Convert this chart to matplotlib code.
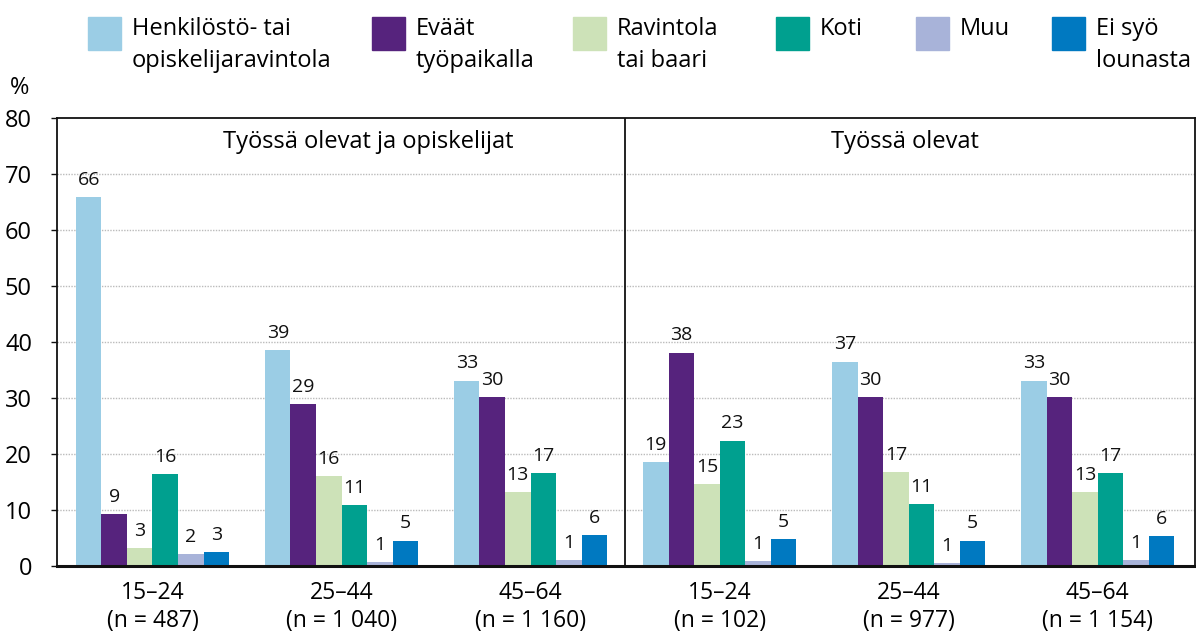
import matplotlib
matplotlib.use("Agg")
import matplotlib.pyplot as plt
import numpy as np
from matplotlib.patches import Rectangle

plt.rcParams['font.family'] = ['Open Sans', 'DejaVu Sans']

# ---- data ----
age_groups = ["15–24", "25–44", "45–64", "15–24", "25–44", "45–64"]
n_values = ["487", "1 040", "1 160", "102", "977", "1 154"]
series_names = ["Henkilöstö- tai\nopiskelijaravintola", "Eväät\ntyöpaikalla",
                "Ravintola\ntai baari", "Koti", "Muu", "Ei syö\nlounasta"]
henkilosto = [65.9, 38.5, 33.1, 18.5, 36.5, 33.1]
evaat = [9.3, 28.9, 30.1, 38.1, 30.1, 30.1]
ravintola = [3.2, 16.0, 13.2, 14.6, 16.7, 13.2]
koti = [16.4, 10.9, 16.6, 22.4, 11.0, 16.6]
muu = [2.1, 0.7, 1.1, 0.9, 0.5, 1.1]
ei_syo = [2.5, 4.5, 5.5, 4.8, 4.5, 5.3]
lab_henkilosto = [66, 39, 33, 19, 37, 33]
lab_evaat = [9, 29, 30, 38, 30, 30]
lab_ravintola = [3, 16, 13, 15, 17, 13]
lab_koti = [16, 11, 17, 23, 11, 17]
lab_muu = [2, 1, 1, 1, 1, 1]
lab_ei_syo = [3, 5, 6, 5, 5, 6]
panel_titles = ["Työssä olevat ja opiskelijat", "Työssä olevat"]
y_ticks = [0, 10, 20, 30, 40, 50, 60, 70, 80]

colors = ["#9BCDE5", "#56237D", "#CDE2B8", "#00A08F", "#A8B3D9", "#0079C1"]
values = [henkilosto, evaat, ravintola, koti, muu, ei_syo]
labels = [lab_henkilosto, lab_evaat, lab_ravintola, lab_koti, lab_muu, lab_ei_syo]

W, H = 1196, 633
fig = plt.figure(figsize=(W / 100, H / 100), dpi=100)
ax = fig.add_axes([57 / W, (H - 566) / H, (1195 - 57) / W, (566 - 118) / H])

x = np.arange(len(age_groups))
bw = 0.135
for i, (vals, labs, col) in enumerate(zip(values, labels, colors)):
    pos = x + (i - 2.5) * bw
    ax.bar(pos, vals, width=bw, color=col, zorder=3, linewidth=0)
    for px, v, l in zip(pos, vals, labs):
        ax.annotate(str(l), (px, v), xytext=(0, 6), textcoords="offset points",
                    ha="center", va="bottom", fontsize=14, color="#111111")

ax.set_xlim(-0.505, 5.515)
ax.set_ylim(0, 80)
ax.set_yticks(y_ticks)
ax.set_yticklabels([str(t) for t in y_ticks], fontsize=17)
ax.set_xticks(x)
ax.set_xticklabels([f"{a}\n(n = {n})" for a, n in zip(age_groups, n_values)],
                   fontsize=16.5, linespacing=1.18)
ax.tick_params(axis="x", length=0, pad=11)
ax.tick_params(axis="y", length=4, width=1, pad=14, color="#111111")

for t in y_ticks[1:-1]:
    ax.axhline(t, color="#BBBBBB", linestyle=(0, (1, 1)), linewidth=1, zorder=1)

for s in ["top", "left", "right"]:
    ax.spines[s].set_linewidth(1.3)
    ax.spines[s].set_color("#111111")
ax.spines["bottom"].set_linewidth(2.2)
ax.spines["bottom"].set_color("#111111")
ax.spines["bottom"].set_zorder(5)

ax.axvline(2.5, color="#111111", linewidth=1.3, zorder=4)

ax.text(1.14, 75.8, panel_titles[0], ha="center", va="center", fontsize=17)
ax.text(3.98, 75.8, panel_titles[1], ha="center", va="center", fontsize=17)

fig.text(20 / W, 1 - 88 / H, "%", ha="center", va="center", fontsize=17)

# legend
sq_left = [88, 372, 573, 776, 916, 1052]
for lx, name, col in zip(sq_left, series_names, colors):
    fig.patches.append(Rectangle((lx / W, 1 - 50 / H), 33 / W, 33 / H,
                                 transform=fig.transFigure, color=col))
    fig.text((lx + 44) / W, 1 - 17 / H, name, ha="left", va="top",
             fontsize=17, linespacing=1.45)

fig.savefig("out.png", dpi=100)
